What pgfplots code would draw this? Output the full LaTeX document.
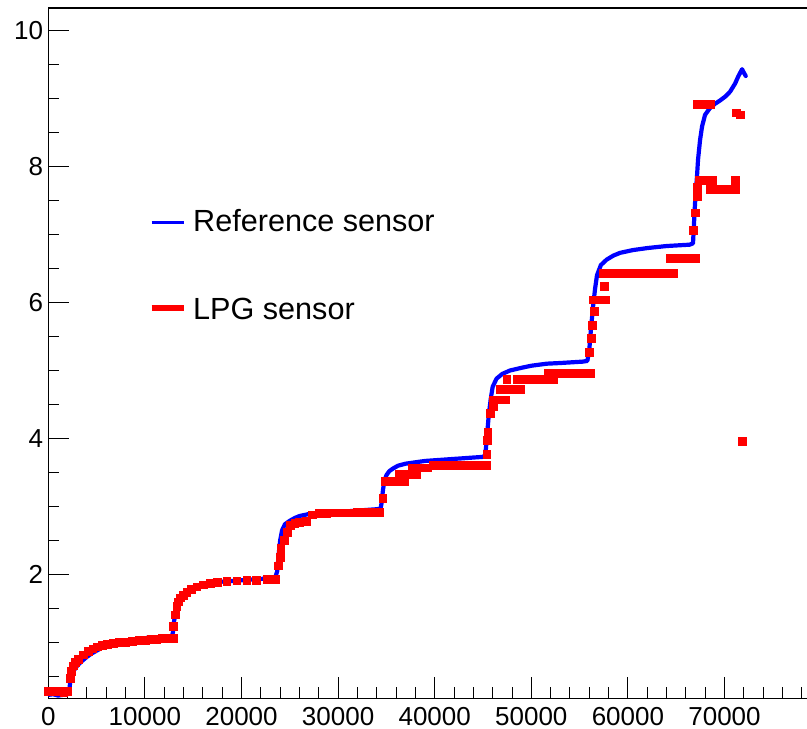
\documentclass[border=0pt]{standalone}
\usepackage{fontspec}
\setmainfont{Liberation Sans}
\usepackage{pgfplots}
\pgfplotsset{compat=1.18}
\usepackage{pgfplotstable}

\pgfplotstableread{
x y
0 0.23
500 0.24
1000 0.22
1500 0.23
2000 0.24
2150 0.28
2300 0.45
2600 0.58
3000 0.66
3500 0.73
4000 0.79
4500 0.84
5000 0.88
5500 0.92
6000 0.95
7000 0.99
8000 1.02
9000 1.04
10000 1.06
10500 1.08
11000 1.05
11500 1.03
12000 1.05
12500 1.07
12800 1.09
12900 1.15
13000 1.30
13200 1.45
13500 1.58
13800 1.66
14200 1.72
14700 1.77
15200 1.81
15700 1.84
16500 1.87
17500 1.89
18500 1.90
19500 1.91
20500 1.92
21500 1.93
22500 1.94
23500 1.96
23700 2.05
23850 2.30
24000 2.50
24200 2.65
24500 2.74
25000 2.79
25500 2.83
26000 2.86
27000 2.89
28000 2.91
29000 2.92
30000 2.93
31000 2.93
32000 2.94
33000 2.95
34000 2.96
34400 2.97
34500 3.05
34650 3.25
34800 3.38
35000 3.46
35300 3.52
35700 3.56
36200 3.60
37000 3.63
38000 3.65
39000 3.67
40000 3.68
41000 3.69
42000 3.70
43000 3.71
44000 3.72
45000 3.73
45200 3.75
45300 3.85
45450 4.10
45600 4.35
45800 4.58
46000 4.76
46400 4.88
47000 4.95
47800 5.00
49000 5.04
50000 5.07
51600 5.10
53000 5.11
55300 5.13
55800 5.14
56000 5.30
56200 5.65
56400 5.95
56600 6.20
56800 6.40
57200 6.55
57800 6.63
58500 6.69
59200 6.73
60500 6.77
62000 6.80
64000 6.83
66400 6.85
66740 6.87
66845 7.17
66950 7.46
67150 7.85
67260 8.10
67470 8.39
67680 8.59
67990 8.76
68500 8.86
69000 8.92
69540 8.97
70100 9.03
70580 9.10
71100 9.22
71410 9.32
71820 9.43
72000 9.38
72200 9.33
}\refdata

\pgfplotstableread{
x y
0 0.28
400 0.29
800 0.28
1200 0.28
1600 0.27
2000 0.29
2250 0.48
2400 0.58
2560 0.66
2800 0.71
3100 0.76
3600 0.82
4100 0.87
4600 0.91
5100 0.94
5600 0.96
6100 0.98
6700 0.99
7300 1.00
8000 1.01
8700 1.02
9400 1.03
10000 1.04
10600 1.05
11200 1.05
11800 1.06
12400 1.06
12900 1.06
12940 1.24
13120 1.41
13290 1.53
13450 1.60
13630 1.66
13950 1.70
14320 1.74
14800 1.78
15360 1.82
16000 1.85
16740 1.87
17500 1.89
18470 1.90
19500 1.91
20540 1.92
21500 1.92
22610 1.93
23470 1.93
23810 2.13
23990 2.25
24060 2.39
24400 2.50
24700 2.62
25000 2.72
25500 2.76
26000 2.77
26700 2.78
27300 2.88
28000 2.90
28800 2.90
29600 2.91
30400 2.91
31200 2.91
32000 2.92
32800 2.92
33600 2.92
34300 2.92
34620 3.12
34860 3.37
35500 3.37
36200 3.37
36900 3.37
36300 3.47
37000 3.47
37600 3.47
38100 3.47
37700 3.57
38500 3.57
39200 3.57
39800 3.61
40600 3.61
41400 3.61
42200 3.61
43000 3.61
43800 3.61
44600 3.61
45300 3.61
45380 3.77
45420 3.98
45480 4.10
45760 4.37
46090 4.47
46000 4.57
46700 4.57
47280 4.57
46760 4.72
47500 4.72
48200 4.72
48830 4.72
47450 4.87
48490 4.87
49010 4.87
49800 4.87
50600 4.87
51400 4.87
52280 4.87
51730 4.96
52500 4.96
53300 4.96
54100 4.96
54900 4.96
55700 4.96
56080 4.96
55970 5.27
56180 5.48
56290 5.67
56490 5.87
56400 6.04
57000 6.04
57630 6.04
57530 6.24
57420 6.43
58200 6.43
59000 6.43
59800 6.43
60600 6.43
61400 6.43
62200 6.43
63000 6.43
63800 6.43
64660 6.43
64350 6.65
65200 6.65
66000 6.65
66940 6.65
66740 7.06
66940 7.32
67150 7.56
67150 7.69
67350 7.80
67470 7.80
67150 8.91
67800 8.91
68500 8.91
68190 7.80
68700 7.80
68500 7.67
69200 7.67
70000 7.67
70600 7.67
71090 7.67
71090 7.80
71200 8.79
71600 8.76
71800 3.96
}\lpgdata

\begin{document}
\begin{tikzpicture}
\useasboundingbox (-48.3pt,-30.7pt) rectangle (758.7pt,698.3pt);
\begin{axis}[
  at={(0pt,0pt)}, anchor=south west,
  scale only axis,
  width=758.7pt, height=690.3pt,
  xmin=0, xmax=78540,
  ymin=0.18, ymax=10.33,
  axis x line=bottom, axis y line=left,
  axis line style={-, line width=1pt, black},
  tick align=inside,
  major tick length=21pt, minor tick length=11pt,
  every tick/.style={black, line width=0.9pt},
  xtick={0,10000,...,70000},
  minor xtick={2000,4000,...,78000},
  ytick={2,4,6,8,10},
  minor ytick={0.5,1,...,10},
  scaled x ticks=false,
  /pgf/number format/assume math mode=true,
  /pgf/number format/1000 sep={},
  /pgf/number format/fixed,
  tick label style={font=\fontsize{26}{30}\selectfont},
  xticklabel style={inner sep=0pt, yshift=-9pt, anchor=north},
  yticklabel style={inner sep=0pt, xshift=-5pt, anchor=east},
  clip=true,
]
\addplot[blue, line width=4.2pt, line join=round, line cap=round, no marks] table {\refdata};
\addplot[red, only marks, mark=square*, mark size=3.9pt, mark options={draw=none, fill=red}] table {\lpgdata};
\end{axis}
\draw[black, line width=1.3pt] (0pt,690.3pt) -- (758.7pt,690.3pt);
% legend
\draw[blue, line width=3pt] (103.4pt,475.3pt) -- (136pt,475.3pt);
\node[anchor=base west, inner sep=0pt, font=\fontsize{30.6}{36}\selectfont] at (144.7pt,466.6pt) {Reference sensor};
\draw[red, line width=6pt] (103.4pt,390.3pt) -- (136pt,390.3pt);
\node[anchor=base west, inner sep=0pt, font=\fontsize{30.6}{36}\selectfont] at (144.7pt,378.3pt) {LPG sensor};
\end{tikzpicture}
\end{document}
